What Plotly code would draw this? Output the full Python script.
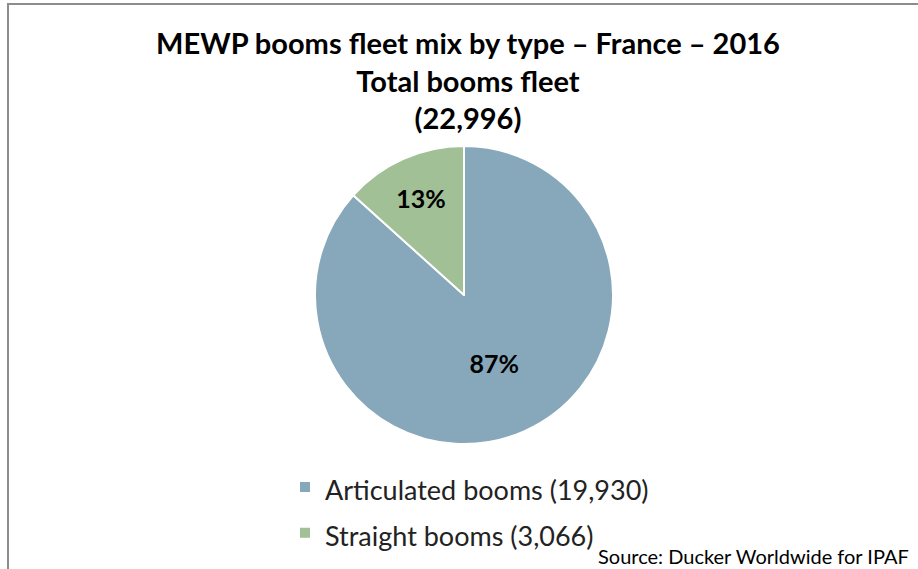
import plotly.graph_objects as go

categories = ["Articulated booms", "Straight booms"]
values = [19930, 3066]
colors = ["#87A7BA", "#A1C096"]
title_lines = ["MEWP booms fleet mix by type – France – 2016", "Total booms fleet", "(22,996)"]
source_text = "Source: Ducker Worldwide for IPAF"

W, H = 918, 569
labels = [f"<span style='font-size:27px'>{c} ({v:,})</span>" for c, v in zip(categories, values)]

cx, cy, r = 464, 295, 149

fig = go.Figure(go.Pie(
    labels=labels,
    values=values,
    marker=dict(colors=colors, line=dict(color="white", width=2)),
    sort=False,
    direction="clockwise",
    rotation=0,
    texttemplate="%{percent:.0%}",
    textposition="inside",
    insidetextorientation="horizontal",
    textfont=dict(family="Lato", size=25, color="black", weight="bold"),
    hoverinfo="label+percent",
    domain=dict(x=[(cx - r) / W, (cx + r) / W], y=[(H - cy - r) / H, (H - cy + r) / H]),
))

fig.update_layout(
    width=W, height=H,
    margin=dict(l=0, r=0, t=0, b=0),
    paper_bgcolor="white",
    plot_bgcolor="white",
    title=dict(
        text="<b>" + "<br>".join(title_lines) + "</b>",
        x=468 / W, xanchor="center", y=1 - 54 / H, yanchor="top",
        font=dict(family="Lato", size=29, color="black"),
    ),
    showlegend=True,
    legend=dict(
        x=285 / W, xanchor="left", y=1 - 459 / H, yanchor="top",
        font=dict(family="Lato", size=33, color="#222"),
        itemwidth=30,
        tracegroupgap=0,
    ),
    annotations=[dict(
        text=source_text, xref="paper", yref="paper",
        x=911 / W, y=1 - 556 / H, xanchor="right", yanchor="middle",
        showarrow=False, font=dict(family="Lato", size=20, color="black"),
    )],
    shapes=[dict(
        type="rect", xref="paper", yref="paper",
        x0=8 / W, x1=1.05, y0=-0.05, y1=1 - 4 / H,
        line=dict(color="#8c8c8c", width=2),
    )],
)

fig.write_html("out.html", config={"displayModeBar": False},
               post_script="document.body.style.margin='0';")
